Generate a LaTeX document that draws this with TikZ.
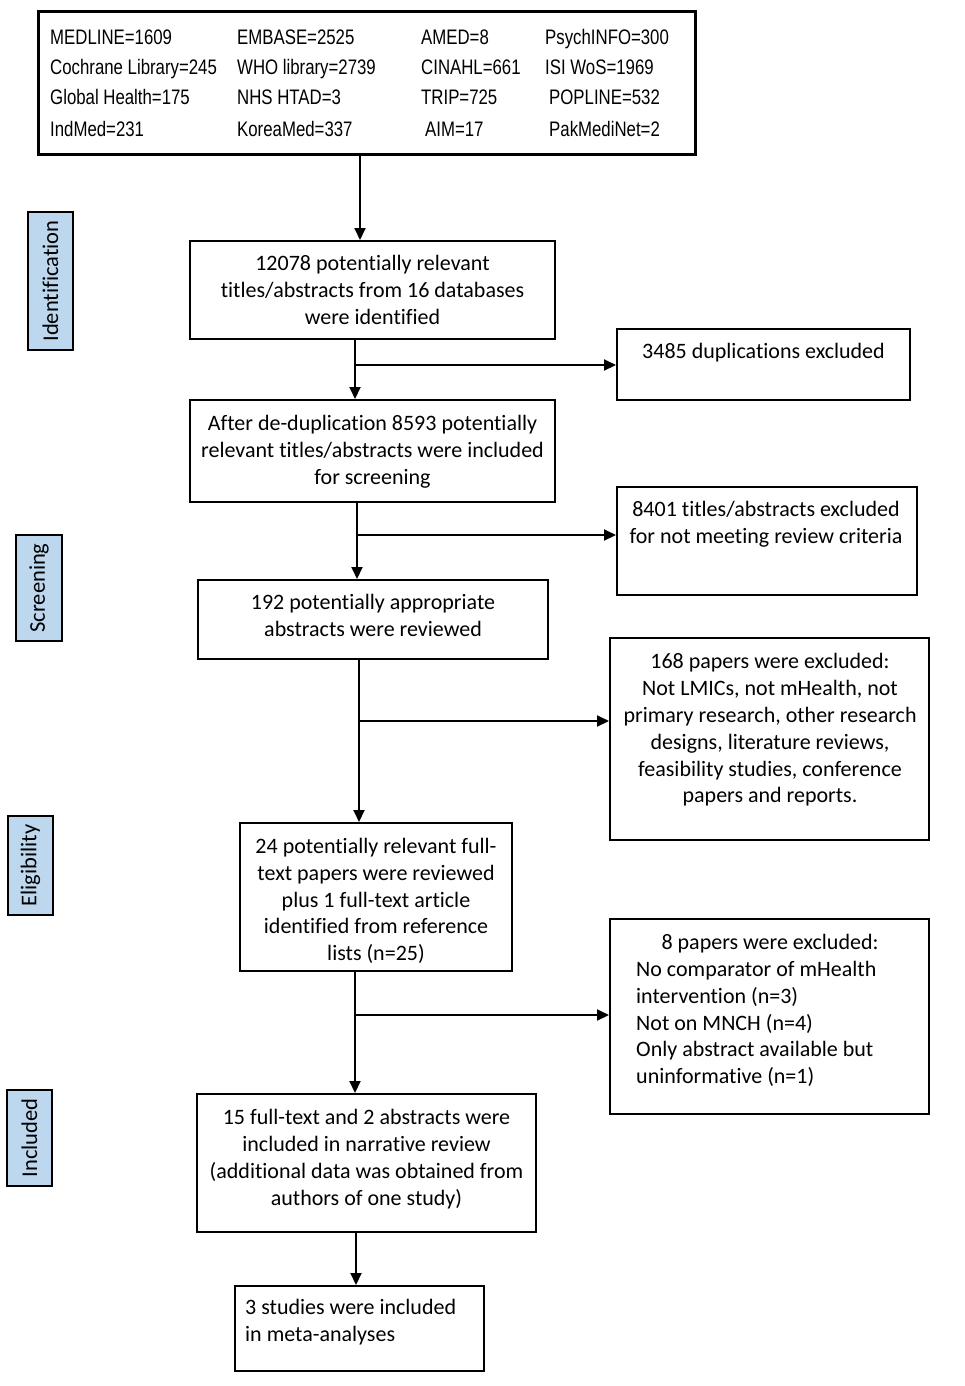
\documentclass[tikz,border=0pt]{standalone}
\usepackage{fontspec}
\setmainfont{Carlito}[Ligatures=NoCommon]
\newfontfamily\narrowfont[FakeStretch=0.8]{Liberation Sans}
\usetikzlibrary{arrows.meta}
\definecolor{phase}{HTML}{BDD7EE}
\begin{document}
\begin{tikzpicture}[x=1pt,y=-1pt,
  box/.style={draw, line width=2pt, inner sep=0pt},
  bigbox/.style={draw, line width=3pt, inner sep=0pt},
  txt/.style={inner sep=0pt, align=center, yshift=-2pt, font=\fontsize{22}{26.8}\selectfont},
  ltxt/.style={inner sep=0pt, align=left, font=\fontsize{22}{26.8}\selectfont},
  db/.style={inner sep=0pt, anchor=base west, font=\narrowfont\fontsize{21}{25}\selectfont},
  phasebox/.style={draw, line width=1.4pt, fill=phase, rotate=90, inner sep=0pt,
    font=\fontsize{22.5}{25}\selectfont},
  arr/.style={line width=2pt, -{Triangle[length=12pt,width=11pt]}},
  ln/.style={line width=2pt}]
\useasboundingbox (0,0) rectangle (965,1386);

% top database box
\node[bigbox, minimum width=657, minimum height=142] (top) at (366.5,83) {};
\node[db] (r1c1) at (50,45) {MEDLINE=1609};
\node[db] (r1c2) at (237,45) {EMBASE=2525};
\node[db] (r1c3) at (421,45) {AMED=8};
\node[db] (r1c4) at (545,45) {PsychINFO=300};
\node[db] (r2c1) at (50,75) {Cochrane Library=245};
\node[db] (r2c2) at (237,75) {WHO library=2739};
\node[db] (r2c3) at (421,75) {CINAHL=661};
\node[db] (r2c4) at (545,75) {ISI WoS=1969};
\node[db] (r3c1) at (50,105) {Global Health=175};
\node[db] (r3c2) at (237,105) {NHS HTAD=3};
\node[db] (r3c3) at (421,105) {TRIP=725};
\node[db] (r3c4) at (549,105) {POPLINE=532};
\node[db] (r4c1) at (50,136) {IndMed=231};
\node[db] (r4c2) at (237,136) {KoreaMed=337};
\node[db] (r4c3) at (425,136) {AIM=17};
\node[db] (r4c4) at (549,136) {PakMediNet=2};

% phase labels
\node[phasebox, minimum width=138, minimum height=45] (p1) at (50.5,281) {Identification};
\node[phasebox, minimum width=106, minimum height=46] (p2) at (39,588) {Screening};
\node[phasebox, minimum width=99, minimum height=45] (p3) at (30.5,865.5) {Eligibility};
\node[phasebox, minimum width=96, minimum height=45] (p4) at (29.5,1138) {Included};

% main boxes
\node[box, minimum width=365, minimum height=98] (b1) at (372.5,290) {};
\node[txt] (t1) at (372.5,288) {12078 potentially relevant\\titles/abstracts from 16 databases\\were identified};

\node[box, minimum width=293, minimum height=71] (d1) at (763.5,364.5) {};
\node[txt] (u1) at (763.5,351) {3485 duplications excluded};

\node[box, minimum width=365, minimum height=102] (b2) at (372.5,451) {};
\node[txt] (t2) at (372.5,450) {After de-duplication 8593 potentially\\relevant titles/abstracts were included\\for screening};

\node[box, minimum width=300, minimum height=108] (d2) at (767,541) {};
\node[txt] (u2) at (766,522.5) {8401 titles/abstracts excluded\\for not meeting review criteria};

\node[box, minimum width=350, minimum height=79] (b3) at (373,619.5) {};
\node[txt] (t3) at (373,613.5) {192 potentially appropriate\\abstracts were reviewed};

\node[box, minimum width=319, minimum height=202] (d3) at (769.5,739) {};
\node[txt] (u3) at (770,728) {168 papers were excluded:\\Not LMICs, not mHealth, not\\primary research, other research\\designs, literature reviews,\\feasibility studies, conference\\papers and reports.};

\node[box, minimum width=272, minimum height=148] (b4) at (376,897) {};
\node[txt] (t4) at (376,899) {24 potentially relevant full-\\text papers were reviewed\\plus 1 full-text article\\identified from reference\\lists (n=25)};

\node[box, minimum width=319, minimum height=195] (d4) at (769.5,1016.5) {};
\node[txt] (u4a) at (770,942) {8 papers were excluded:};
\node[ltxt, anchor=north west] (u4b) at (636,961) {No comparator of mHealth\\intervention (n=3)\\Not on MNCH (n=4)\\Only abstract available but\\uninformative (n=1)};

\node[box, minimum width=339, minimum height=138] (b5) at (366.5,1163) {};
\node[txt] (t5) at (366.5,1157) {15 full-text and 2 abstracts were\\included in narrative review\\(additional data was obtained from\\authors of one study)};

\node[box, minimum width=249, minimum height=85] (b6) at (359.5,1328.5) {};
\node[ltxt, anchor=west] (t6) at (245,1322.5) {3 studies were included\\in meta-analyses};

% connectors
\coordinate (x0) at (360,0);
\draw[arr] (top.south -| x0) -- (b1.north -| x0);

\coordinate (j1) at (355,365);
\draw[arr] (b1.south -| j1) -- (b2.north -| j1);
\draw[arr] (j1) -- (d1.west |- j1);

\coordinate (j2) at (357,535);
\draw[arr] (b2.south -| j2) -- (b3.north -| j2);
\draw[arr] (j2) -- (d2.west |- j2);

\coordinate (j3) at (359,721);
\draw[arr] (b3.south -| j3) -- (b4.north -| j3);
\draw[arr] (j3) -- (d3.west |- j3);

\coordinate (j4) at (355,1015);
\draw[arr] (b4.south -| j4) -- (b5.north -| j4);
\draw[arr] (j4) -- (d4.west |- j4);

\coordinate (x5) at (356,0);
\draw[arr] (b5.south -| x5) -- (b6.north -| x5);
\end{tikzpicture}
\end{document}
